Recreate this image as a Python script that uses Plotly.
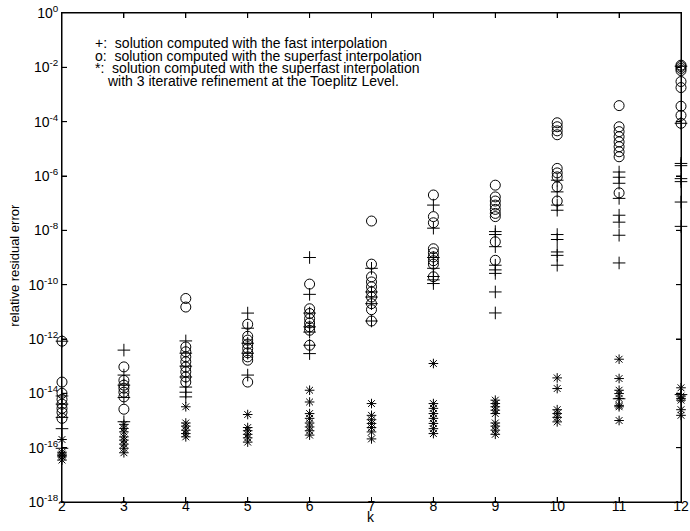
import plotly.graph_objects as go

k_values = [2, 3, 4, 5, 6, 7, 8, 9, 10, 11, 12]

# '+': solution computed with the fast interpolation
fast = [
    [8.3e-13, 8e-15, 4e-15, 1.3e-15, 5e-16, 9.5e-17],
    [3.9e-13, 4.7e-14, 2e-14, 7e-15, 9e-16],
    [8.5e-13, 3e-13, 1e-13, 4e-14, 1.7e-14, 1.1e-14, 7.4e-15],
    [9e-12, 2.5e-12, 7e-13, 3e-13, 4.7e-14],
    [1e-9, 4.4e-11, 9e-12, 2.8e-12, 1.8e-12, 5.9e-13, 2.9e-13],
    [4e-10, 5.4e-11, 3.5e-11, 2e-11, 4.6e-12],
    [8.5e-8, 1.2e-8, 1e-9, 4e-10, 2e-10, 1.5e-10, 1.1e-10],
    [9e-9, 7e-9, 2.5e-9, 5.2e-10, 3.5e-10, 2.6e-10, 5.4e-11, 9.1e-12],
    [7e-7, 2.6e-7, 8.5e-8, 5.5e-8, 7e-9, 4.6e-9, 1.6e-9, 1.2e-9, 5.2e-10],
    [1.4e-6, 9e-7, 5.4e-7, 1.5e-7, 3.6e-8, 2e-8, 6.6e-9, 6.3e-10, 6.3e-15],
    [1.1e-2, 8.7e-5, 2.9e-6, 2.4e-6, 8e-7, 6.2e-7, 1.1e-7, 1.4e-8, 9e-15],
]

# 'o': solution computed with the superfast interpolation
superfast = [
    [8.3e-13, 2.6e-14, 1e-14, 6e-15, 4e-15, 2.8e-15, 2e-15, 1.2e-15],
    [9.4e-14, 3e-14, 2e-14, 1.55e-14, 1.1e-14, 7.4e-15, 2.6e-15],
    [3.1e-11, 1.5e-11, 5.1e-13, 3.4e-13, 2.2e-13, 1.45e-13, 9.3e-14, 6.2e-14, 4e-14, 2.6e-14],
    [3.5e-12, 1.26e-12, 9.1e-13, 6.5e-13, 4.5e-13, 3.1e-13, 2.2e-13, 1.66e-13, 2.6e-14],
    [1.05e-10, 1.3e-11, 8.7e-12, 5.6e-12, 3.9e-12, 2.8e-12, 2.1e-12, 5.9e-13],
    [2.2e-8, 5.7e-10, 1.95e-10, 1.26e-10, 8.3e-11, 5.4e-11, 3.5e-11, 2e-11, 1.2e-11, 4.6e-12],
    [2e-7, 3.2e-8, 1.9e-8, 2.1e-9, 1.5e-9, 1.05e-9, 7.6e-10, 5.7e-10, 1.95e-10],
    [4.6e-7, 1.7e-7, 1.2e-7, 8.5e-8, 5.9e-8, 4.2e-8, 3.2e-8, 3.8e-9, 7.9e-10],
    [9.1e-5, 6.5e-5, 4.6e-5, 3.3e-5, 1.9e-6, 1.3e-6, 9.3e-7, 4e-7, 1.2e-7],
    [3.9e-4, 6.5e-5, 4.3e-5, 2.8e-5, 1.8e-5, 1.2e-5, 7.8e-6, 5.1e-6, 2.4e-7],
    [1.2e-2, 1.07e-2, 9.1e-3, 7.6e-3, 3e-3, 1.8e-3, 3.7e-4, 1.7e-4, 8.7e-5],
]

# '*': superfast interpolation with 3 iterative refinement at the Toeplitz level
refined = [
    [2e-16, 6.8e-17, 5.8e-17, 5.2e-17, 4.6e-17, 3.5e-17],
    [7.2e-16, 5.1e-16, 3.8e-16, 2.5e-16, 1.9e-16, 1.35e-16, 9.5e-17, 6.5e-17],
    [3.2e-15, 8.1e-16, 6.2e-16, 4.4e-16, 3.3e-16, 2.5e-16],
    [1.66e-15, 5.5e-16, 4.2e-16, 3.1e-16, 2.3e-16, 1.6e-16],
    [1.3e-14, 4.8e-15, 1.8e-15, 1.2e-15, 8.1e-16, 5.8e-16, 4.2e-16, 2.9e-16],
    [4.2e-15, 1.55e-15, 1.07e-15, 7.8e-16, 5.5e-16, 3.8e-16, 2.1e-16],
    [1.25e-13, 4.2e-15, 2.8e-15, 1.8e-15, 1.2e-15, 7.8e-16, 5e-16, 3.3e-16],
    [5.6e-15, 4.2e-15, 3.2e-15, 2.4e-15, 1.8e-15, 8.1e-16, 6.2e-16, 4.4e-16, 3.1e-16],
    [3.7e-14, 1.5e-14, 2.5e-15, 1.8e-15, 1.3e-15, 8.9e-16],
    [1.8e-13, 3.5e-14, 1.3e-14, 9.8e-15, 6.5e-15, 3.6e-15, 3.2e-15, 1e-15],
    [1.6e-14, 7.9e-15, 6.5e-15, 5.6e-15, 2.5e-15, 1.55e-15],
]

y_tick_exponents = [0, -2, -4, -6, -8, -10, -12, -14, -16, -18]

legend_lines = [
    "+:&nbsp; solution computed with the fast interpolation",
    "o:&nbsp; solution computed with the superfast interpolation",
    "*:&nbsp; solution computed with the superfast interpolation",
    "with 3 iterative refinement at the Toeplitz Level.",
]


def flatten(groups):
    xs, ys = [], []
    for k, vals in zip(k_values, groups):
        for v in vals:
            xs.append(k)
            ys.append(v)
    return xs, ys


FONT = "Liberation Sans, Arial, Helvetica, sans-serif"
fig = go.Figure()

for groups, symbol, size in [
    (superfast, "circle-open", 10),
    (fast, "cross-thin-open", 9),
    (refined, "asterisk-open", 8),
]:
    xs, ys = flatten(groups)
    fig.add_trace(go.Scatter(
        x=xs, y=ys, mode="markers", cliponaxis=False, showlegend=False,
        marker=dict(symbol=symbol, size=size, color="black",
                    line=dict(color="black", width=1)),
    ))

axis_common = dict(
    showline=True, linecolor="black", linewidth=1, mirror="ticks",
    ticks="inside", ticklen=5, tickcolor="black", showgrid=False,
    zeroline=False, automargin=False, ticklabeloverflow="allow",
    tickfont=dict(family=FONT, size=14, color="black"),
)

y_ticks = [10.0 ** e for e in y_tick_exponents]
fig.update_xaxes(range=[2, 12], tickvals=k_values,
                 ticktext=[str(k) for k in k_values],
                 ticklabelstandoff=-9, **axis_common)
fig.update_yaxes(type="log", range=[-18, 0], tickvals=y_ticks,
                 ticktext=["10<sup>%d</sup>" % e for e in y_tick_exponents],
                 **axis_common)

# frame and tick marks (drawn as shapes too, so they always show)
line_style = dict(color="black", width=1)
shapes = [dict(type="rect", xref="paper", yref="paper", x0=0, x1=1, y0=0, y1=1,
               line=line_style, layer="above")]
tick_frac_x = 5 / 489.0
tick_frac_y = 5 / 619.0
for k in k_values[1:-1]:
    shapes.append(dict(type="line", xref="x", yref="paper", x0=k, x1=k,
                       y0=0, y1=tick_frac_x, line=line_style))
    shapes.append(dict(type="line", xref="x", yref="paper", x0=k, x1=k,
                       y0=1 - tick_frac_x, y1=1, line=line_style))
for v in y_ticks[1:-1]:
    shapes.append(dict(type="line", xref="paper", yref="y", x0=0,
                       x1=tick_frac_y, y0=v, y1=v, line=line_style))
    shapes.append(dict(type="line", xref="paper", yref="y", x0=1 - tick_frac_y,
                       x1=1, y0=v, y1=v, line=line_style))

ann = []
line_y = [0.939, 0.913, 0.887, 0.861]
line_x = [0.05, 0.05, 0.05, 0.069]
for txt, xx, yy in zip(legend_lines, line_x, line_y):
    ann.append(dict(text=txt, xref="paper", yref="paper", x=xx, y=yy,
                    xanchor="left", yanchor="middle", showarrow=False,
                    font=dict(family=FONT, size=14, color="black")))
ann.append(dict(text="relative residual error", xref="paper", yref="paper",
                x=-0.076, y=0.485, textangle=-90, xanchor="center",
                yanchor="middle", showarrow=False,
                font=dict(family=FONT, size=13, color="black")))
ann.append(dict(text="k", xref="paper", yref="paper", x=0.4995, y=-0.031,
                xanchor="center", yanchor="middle", showarrow=False,
                font=dict(family=FONT, size=14, color="black")))

fig.update_layout(
    width=690, height=531,
    margin=dict(l=62, r=9, t=13, b=29),
    plot_bgcolor="white", paper_bgcolor="white",
    annotations=ann, shapes=shapes,
    font=dict(family=FONT, color="black"),
)

fig.write_html("out.html",
               config={"displayModeBar": False, "staticPlot": True},
               post_script="document.body.style.margin='0';"
                           "document.body.style.overflow='hidden';")
